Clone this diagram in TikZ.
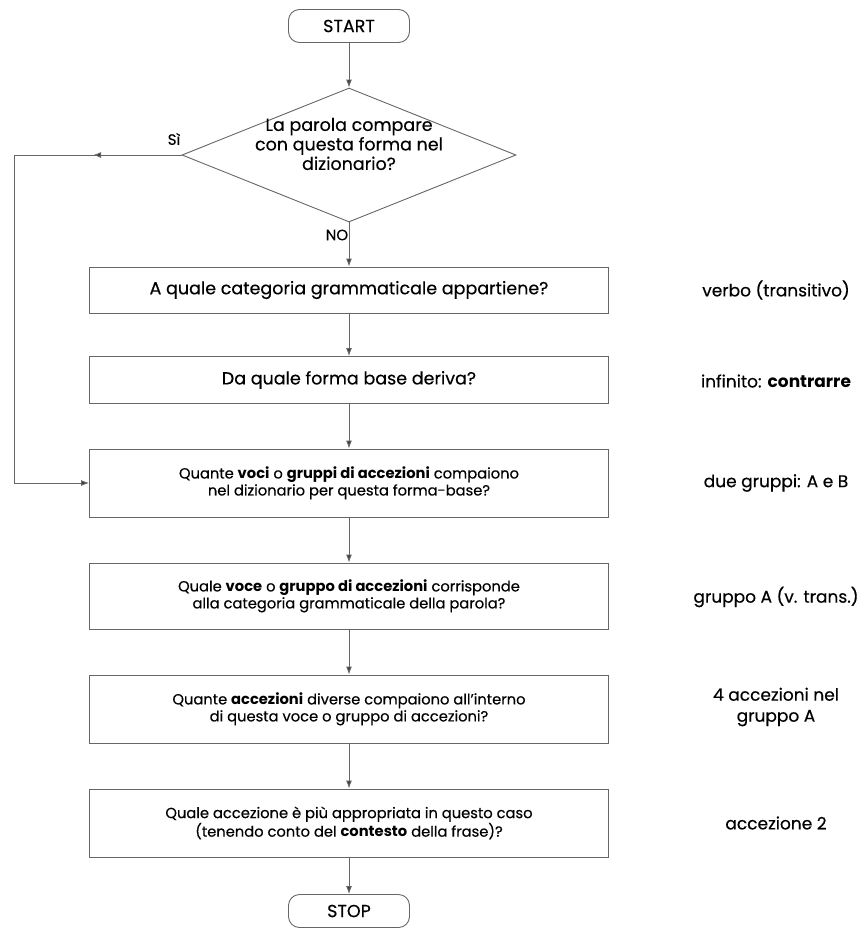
\documentclass[tikz,border=0pt]{standalone}
\usepackage{fontspec}
\setmainfont{Poppins}[UprightFeatures={FakeBold=0.35}]
\usetikzlibrary{arrows.meta,shapes.geometric,decorations.markings}

\tikzset{
  line/.style={draw=black!60, line width=0.9pt},
  flow/.style={line, -{Latex[length=8pt,width=6pt,fill=black!75]}},
  qbox/.style={line, minimum width=519pt, inner sep=0pt, align=center,
    font=\fontsize{14.7pt}{17pt}\selectfont},
  qone/.style={qbox, font=\fontsize{17.5pt}{19pt}\selectfont},
  term/.style={line, rounded corners=11pt, minimum width=121pt,
    minimum height=33pt, inner sep=0pt, font=\fontsize{17.5pt}{19pt}\selectfont},
  decision/.style={line, diamond, minimum width=334pt, minimum height=134pt,
    inner sep=0pt},
  ann/.style={align=center, font=\fontsize{17pt}{21pt}\selectfont},
  lab/.style={font=\fontsize{15pt}{16pt}\selectfont}
}

\begin{document}
\begin{tikzpicture}[x=1pt, y=-1pt]
  \useasboundingbox (0,0) rectangle (866,932);
  \def\cx{349}; \def\ax{776}; \def\lx{14};

  \node[term] (start) at (\cx,26) {START};
  \node[decision] (dec) at (\cx,155) {};
  \node[align=center, font=\fontsize{17.5pt}{19.5pt}\selectfont] (decq)
    at (\cx,144) {La parola compare\\con questa forma nel\\dizionario?};

  \node[qone, minimum height=46pt] (q1) at (\cx,290)
    {A quale categoria grammaticale appartiene?};
  \node[qone, minimum height=47pt] (q2) at (\cx,380)
    {Da quale forma base deriva?};
  \node[qbox, minimum height=68pt] (q3) at (\cx,483)
    {Quante \textbf{voci} o \textbf{gruppi di accezioni} compaiono\\
     nel dizionario per questa forma-base?};
  \node[qbox, minimum height=66pt] (q4) at (\cx,596)
    {Quale \textbf{voce} o \textbf{gruppo di accezioni} corrisponde\\
     alla categoria grammaticale della parola?};
  \node[qbox, minimum height=68pt] (q5) at (\cx,709)
    {Quante \textbf{accezioni} diverse compaiono all’interno\\
     di questa voce o gruppo di accezioni?};
  \node[qbox, minimum height=68pt] (q6) at (\cx,823)
    {Quale accezione è più appropriata in questo caso\\
     (tenendo conto del \textbf{contesto} della frase)?};
  \node[term] (stop) at (\cx,911) {STOP};

  % risposte a destra
  \node[ann] (a1) at (\ax,290) {verbo (transitivo)};
  \node[ann] (a2) at (\ax,381) {infinito: \textbf{contrarre}};
  \node[ann] (a3) at (\ax,483) {due gruppi: A e B};
  \node[ann] (a4) at (\ax,597) {gruppo A (v. trans.)};
  \node[ann] (a5) at (\ax,707) {4 accezioni nel\\gruppo A};
  \node[ann] (a6) at (\ax,823) {accezione 2};

  \node[lab] (si) at (174,139) {Sì};
  \node[lab] (no) at (337,235) {NO};

  \draw[flow] (start) -- (dec.north);
  \draw[flow] (dec.south) -- (q1);
  \draw[flow] (q1) -- (q2); \draw[flow] (q2) -- (q3);
  \draw[flow] (q3) -- (q4); \draw[flow] (q4) -- (q5);
  \draw[flow] (q5) -- (q6); \draw[flow] (q6) -- (stop);

  % ramo del sì
  \coordinate (loop) at (\lx,155);
  \draw[flow, postaction={decorate}, decoration={markings,
      mark=at position 0.155 with
      {\arrow{Latex[length=8pt,width=6pt,fill=black!75]}}}]
    (dec.west) -- (loop) |- (q3.west);
\end{tikzpicture}
\end{document}
